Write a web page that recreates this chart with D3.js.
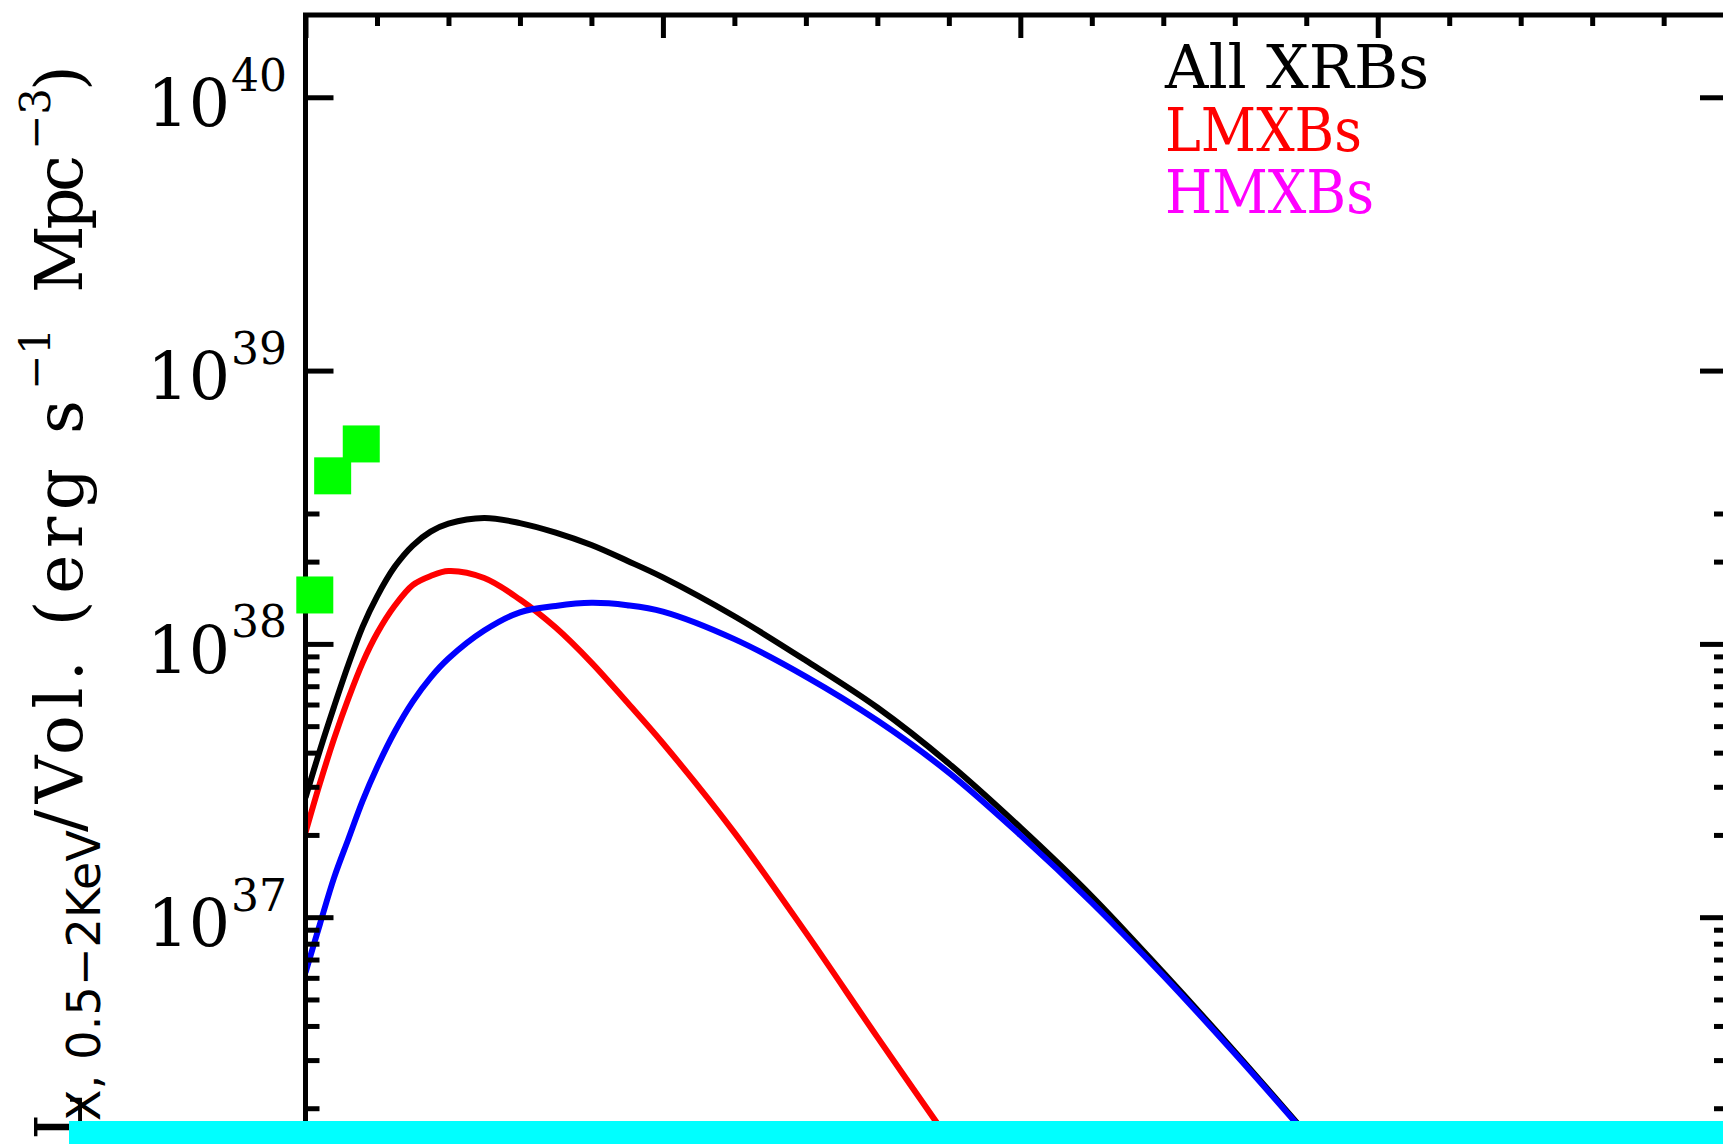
<!DOCTYPE html>
<html>
<head>
<meta charset="utf-8">
<script src="https://cdn.jsdelivr.net/npm/d3@7"></script>
<style>
  html, body { margin: 0; padding: 0; background: #fff; overflow: hidden; }
  svg { display: block; }
</style>
</head>
<body>
<svg id="chart"></svg>
<script>
// ---- data: X-ray luminosity density of X-ray binaries vs redshift ----
const zTotal = [0, 0.04, 0.08, 0.12, 0.16, 0.2, 0.25, 0.3, 0.35, 0.4, 0.5, 0.6, 0.7, 0.8, 0.9,
                1.0, 1.2, 1.4, 1.6, 1.8, 2.0, 2.2, 2.4, 2.6, 2.8];
const lumTotal = [2.74e37, 4.07e37, 5.90e37, 8.40e37, 1.157e38, 1.490e38, 1.918e38, 2.29e38, 2.575e38,
                  2.755e38, 2.89e38, 2.767e38, 2.553e38, 2.299e38, 2.014e38, 1.751e38, 1.262e38,
                  8.69e37, 5.85e37, 3.65e37, 2.13e37, 1.193e37, 6.27e36, 3.22e36, 1.615e36];

const zLmxb = [0, 0.04, 0.08, 0.12, 0.16, 0.2, 0.25, 0.3, 0.35, 0.4, 0.5, 0.6, 0.7, 0.8, 0.9,
               1.0, 1.2, 1.4, 1.6, 1.8];
const lumLmxb = [2.04e37, 3.08e37, 4.50e37, 6.31e37, 8.54e37, 1.091e38, 1.381e38, 1.641e38, 1.771e38,
                 1.847e38, 1.741e38, 1.453e38, 1.147e38, 8.54e37, 6.11e37, 4.33e37, 2.04e37,
                 8.78e36, 3.64e36, 1.53e36];

const zHmxb = [0, 0.04, 0.08, 0.12, 0.16, 0.2, 0.25, 0.3, 0.35, 0.4, 0.5, 0.6, 0.7, 0.8, 0.9,
               1.0, 1.2, 1.4, 1.6, 1.8, 2.0, 2.2, 2.4, 2.6, 2.8];
const lumHmxb = [6.27e36, 9.40e36, 1.396e37, 1.933e37, 2.67e37, 3.53e37, 4.78e37, 6.15e37, 7.53e37,
                 8.84e37, 1.119e38, 1.305e38, 1.377e38, 1.413e38, 1.385e38, 1.313e38, 1.041e38,
                 7.59e37, 5.24e37, 3.38e37, 1.997e37, 1.131e37, 6.11e36, 3.17e36, 1.60e36];

// observed points
const zObs = [0.026, 0.076, 0.156];
const lumObs = [1.51e38, 4.12e38, 5.39e38];

// axis ranges and ticks
const zDomain = [0, 3.98];
const lumDomain = [1e36, 2e40];
const decadeExponents = [36, 37, 38, 39, 40];
const lumMinorTicks = [2e36, 3e36, 4e36, 5e36, 6e36, 7e36, 8e36, 9e36,
                       2e37, 3e37, 4e37, 5e37, 6e37, 7e37, 8e37, 9e37,
                       2e38, 3e38];
const zMajorTicks = [0, 1, 2, 3];

// legend entries
const legendLabels = ["All XRBs", "LMXBs", "HMXBs"];
const legendColors = ["#000000", "#ff0000", "#ff00ff"];

// y-axis title pieces
const yTitlePieces = ["L", "X, 0.5\u22122KeV", "/Vol. (erg s", "\u22121", "Mpc", "\u22123", ")"];

// ---- layout ----
const W = 1723, H = 1144;
const plot = { left: 305.5, right: 1728, top: 15, bottom: 1190.5 };
const serif = "'DejaVu Serif', 'Liberation Serif', serif";
const sans = "'DejaVu Sans', 'Liberation Sans', sans-serif";

const svg = d3.select("#chart").attr("width", W).attr("height", H);

const x = d3.scaleLinear().domain(zDomain).range([plot.left, plot.right]);
const y = d3.scaleLog().domain(lumDomain).range([plot.bottom, plot.top]);

svg.append("defs").append("clipPath").attr("id", "plotclip")
  .append("rect")
  .attr("x", plot.left).attr("y", plot.top)
  .attr("width", plot.right - plot.left).attr("height", plot.bottom - plot.top);

// ---- curves ----
const line = d3.line()
  .x(d => x(d[0]))
  .y(d => y(d[1]))
  .curve(d3.curveCatmullRom.alpha(0.5));

const series = [
  { z: zTotal, lum: lumTotal, color: "#000000" },
  { z: zLmxb, lum: lumLmxb, color: "#ff0000" },
  { z: zHmxb, lum: lumHmxb, color: "#0000ff" }
];

const curves = svg.append("g").attr("clip-path", "url(#plotclip)");
series.forEach(s => {
  curves.append("path")
    .datum(d3.zip(s.z, s.lum))
    .attr("d", line)
    .attr("fill", "none")
    .attr("stroke", s.color)
    .attr("stroke-width", 6)
    .attr("stroke-linejoin", "round");
});

// ---- axes (ticks point inward on all four sides) ----
const majorLum = decadeExponents.map(e => Math.pow(10, e));
const minorZ = d3.range(0, zDomain[1], 0.2).filter(v => Math.abs(v - Math.round(v)) > 1e-6);

function styleAxis(g) {
  g.select(".domain").remove();
  g.selectAll(".tick line").attr("stroke", "#000").attr("stroke-width", 5);
  g.selectAll(".tick text").remove();
}

const axes = svg.append("g");
// left
axes.append("g").attr("transform", `translate(${plot.left},0)`)
  .call(d3.axisRight(y).tickValues(majorLum).tickSize(28).tickFormat("")).call(styleAxis);
axes.append("g").attr("transform", `translate(${plot.left},0)`)
  .call(d3.axisRight(y).tickValues(lumMinorTicks).tickSize(14).tickFormat("")).call(styleAxis);
// right
axes.append("g").attr("transform", `translate(${plot.right},0)`)
  .call(d3.axisLeft(y).tickValues(majorLum).tickSize(28).tickFormat("")).call(styleAxis);
axes.append("g").attr("transform", `translate(${plot.right},0)`)
  .call(d3.axisLeft(y).tickValues(lumMinorTicks).tickSize(14).tickFormat("")).call(styleAxis);
// top
axes.append("g").attr("transform", `translate(0,${plot.top})`)
  .call(d3.axisBottom(x).tickValues(zMajorTicks).tickSize(23).tickFormat("")).call(styleAxis);
axes.append("g").attr("transform", `translate(0,${plot.top})`)
  .call(d3.axisBottom(x).tickValues(minorZ).tickSize(11).tickFormat("")).call(styleAxis);
// bottom
axes.append("g").attr("transform", `translate(0,${plot.bottom})`)
  .call(d3.axisTop(x).tickValues(zMajorTicks).tickSize(23).tickFormat("")).call(styleAxis);
axes.append("g").attr("transform", `translate(0,${plot.bottom})`)
  .call(d3.axisTop(x).tickValues(minorZ).tickSize(11).tickFormat("")).call(styleAxis);

// frame
axes.append("rect")
  .attr("x", plot.left).attr("y", plot.top)
  .attr("width", plot.right - plot.left).attr("height", plot.bottom - plot.top)
  .attr("fill", "none").attr("stroke", "#000").attr("stroke-width", 5);

// decade labels 10^n
const labels = svg.append("g").attr("font-family", serif).attr("fill", "#000");
decadeExponents.forEach(e => {
  const ty = y(Math.pow(10, e));
  labels.append("text")
    .attr("x", 230).attr("y", ty + 28.7)
    .attr("text-anchor", "end").attr("font-size", 65)
    .text("10");
  labels.append("text")
    .attr("x", 287).attr("y", ty - 6.5)
    .attr("text-anchor", "end").attr("font-size", 44)
    .text(String(e));
});

// ---- observed points (filled squares) ----
const sq = 37;
svg.append("g").selectAll("rect")
  .data(d3.zip(zObs, lumObs))
  .join("rect")
  .attr("x", d => x(d[0]) - sq / 2)
  .attr("y", d => y(d[1]) - sq / 2)
  .attr("width", sq).attr("height", sq)
  .attr("fill", "#00ff00");

// ---- legend ----
const legendWidths = [264, 197, 209];
const legend = svg.append("g").attr("font-family", serif).attr("font-size", 59);
legendLabels.forEach((t, i) => {
  legend.append("text")
    .attr("x", 1165).attr("y", 88 + i * 62.6)
    .attr("fill", legendColors[i])
    .attr("textLength", legendWidths[i])
    .attr("lengthAdjust", "spacingAndGlyphs")
    .text(t);
});

// ---- y-axis title, rotated to read bottom to top ----
const titleLayout = [
  { start: 1140, base: 82, size: 66, fam: serif },
  { start: 1121, base: 100, size: 46, fam: sans, len: 291 },
  { start: 832, base: 82, size: 66, fam: serif, len: 432 },
  { start: 390, base: 50, size: 42, fam: serif },
  { start: 293, base: 82, size: 66, fam: serif, len: 138 },
  { start: 150, base: 50, size: 42, fam: serif },
  { start: 91, base: 82, size: 66, fam: serif }
];
const title = svg.append("g").attr("transform", "rotate(-90)").attr("fill", "#000");
yTitlePieces.forEach((t, i) => {
  const L = titleLayout[i];
  const el = title.append("text")
    .attr("x", -L.start).attr("y", L.base)
    .attr("font-family", L.fam).attr("font-size", L.size)
    .attr("xml:space", "preserve")
    .text(t);
  if (L.len) el.attr("textLength", L.len).attr("lengthAdjust", "spacing");
});

// ---- cyan strip along the bottom edge ----
svg.append("rect")
  .attr("x", 69).attr("y", H - 23)
  .attr("width", W - 69).attr("height", 23)
  .attr("fill", "#00ffff");
</script>
</body>
</html>
